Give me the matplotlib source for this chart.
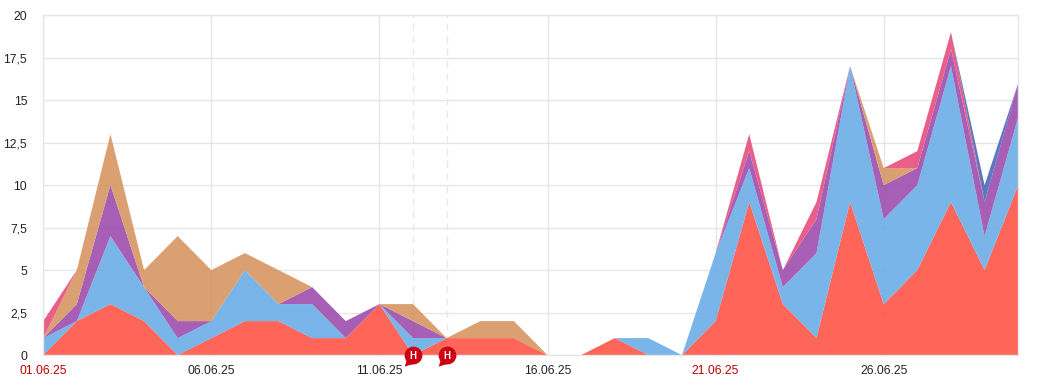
import matplotlib
matplotlib.use("Agg")
import numpy as np
import matplotlib.pyplot as plt
from matplotlib.path import Path

plt.rcParams['font.family'] = ['Liberation Sans', 'DejaVu Sans']

days = list(range(30))
red    = [0,2,3,2,0,1,2,2,1,1,3,0,1,1,1,0,0,1,0,0,2,9,3,1,9,3,5,9,5,10]
blue   = [1,0,4,2,1,1,3,1,2,0,0,1,0,0,0,0,0,0,1,0,4,2,1,5,8,5,5,8,2,4]
purple = [0,1,3,0,1,0,0,0,1,1,0,1,0,0,0,0,0,0,0,0,0,1,1,2,0,2,1,1,2,2]
tan    = [0,2,3,1,5,3,1,2,0,0,0,1,0,1,1,0,0,0,0,0,0,0,0,0,0,1,0,0,0,0]
pink   = [1,0,0,0,0,0,0,0,0,0,0,0,0,0,0,0,0,0,0,0,0,1,0,1,0,0,1,1,0,0]
navy   = [0,0,0,0,0,0,0,0,0,0,0,0,0,0,0,0,0,0,0,0,0,0,0,0,0,0,0,0,1,0]
series = [red, blue, purple, tan, pink, navy]
colors = ['#ff5142', '#68abe7', '#9b49ab', '#d6935e', '#e7497a', '#4567b7']

x_ticks = [0, 5, 10, 15, 20, 25]
x_labels = ['01.06.25', '06.06.25', '11.06.25', '16.06.25', '21.06.25', '26.06.25']
red_labels = ['01.06.25', '21.06.25']
y_ticks = [0, 2.5, 5, 7.5, 10, 12.5, 15, 17.5, 20]
y_labels = ['0', '2,5', '5', '7,5', '10', '12,5', '15', '17,5', '20']
event_days = [11, 12]

W, H = 1042, 390
fig = plt.figure(figsize=(W / 100, H / 100), dpi=100, facecolor='white')
ax = fig.add_axes([43.2 / W, (H - 355.1) / H, 975 / W, 340 / H])
ax.set_xlim(0, 29)
ax.set_ylim(0, 20)

ax.set_axisbelow(True)
ax.grid(True, color='#e6e6e6', linewidth=1)
for s in ax.spines.values():
    s.set_color('#e6e6e6')
    s.set_linewidth(1)
ax.tick_params(length=0)
ax.set_xticks(x_ticks, x_labels, fontsize=8.7, color='#222222')
ax.set_yticks(y_ticks, y_labels, fontsize=8.7, color='#222222')
ax.tick_params(axis='x', pad=7.0)
ax.tick_params(axis='y', pad=11.5)
for t in ax.get_yticklabels():
    t.set_ha('right')
for t in ax.get_xticklabels():
    if t.get_text() in red_labels:
        t.set_color('#c00000')

for d in event_days:
    ax.axvline(d, color='#e8e8e8', linewidth=1, linestyle=(0, (5, 4)), zorder=1)

ax.stackplot(days, *series, colors=colors, alpha=0.88, linewidth=0, zorder=2)

circle = Path.unit_circle()
tail = Path([(-0.75, -0.55), (-1.0, -1.25), (0.0, -0.95), (-0.75, -0.55)],
            [Path.MOVETO, Path.LINETO, Path.LINETO, Path.CLOSEPOLY])
bubble = Path.make_compound_path(circle, tail)
for d in event_days:
    ax.plot([d], [0], marker=bubble, ms=16, mfc='#cc0011', mec='none',
            clip_on=False, zorder=5, ls='none')
    ax.annotate('H', (d, 0), xytext=(0, -0.5), textcoords='offset points',
                ha='center', va='center', color='white', fontsize=7,
                fontweight='bold', zorder=6, annotation_clip=False)

fig.savefig('out.png', dpi=100)
